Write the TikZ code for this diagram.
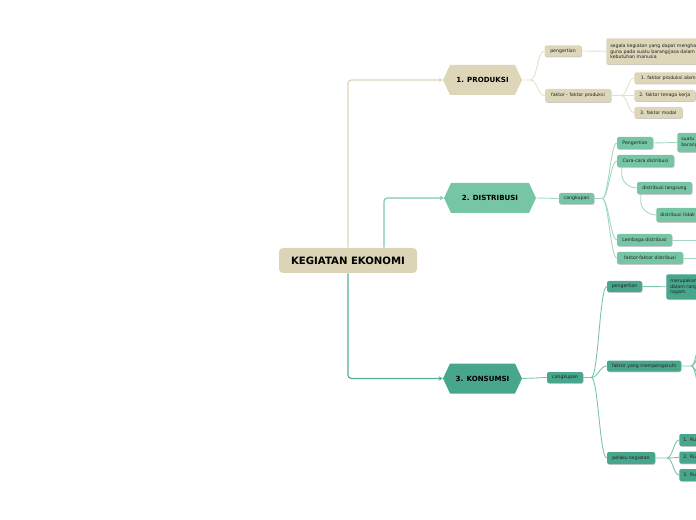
\documentclass[tikz,border=0pt]{standalone}
\usepackage{fontspec}
\setmainfont{DejaVu Sans}
\usetikzlibrary{shapes.symbols,shadows,calc,arrows.meta}
\newdimen\pxu \pxu=0.75pt
\definecolor{beige}{HTML}{DDD6B8}
\definecolor{beigeline}{HTML}{E6E0CA}
\definecolor{beigemain}{HTML}{DDD5B6}
\definecolor{rootbeige}{HTML}{DCD4B6}
\definecolor{mint}{HTML}{76C5A5}
\definecolor{mintline}{HTML}{A3D9C4}
\definecolor{mintmain}{HTML}{7CCBAC}
\definecolor{tealc}{HTML}{47A68C}
\definecolor{tealline}{HTML}{7CC3AE}
\definecolor{tealmain}{HTML}{55AE95}
\definecolor{txt}{HTML}{222222}
\tikzset{
  box/.style={rectangle, rounded corners=1.5pt, inner sep=0pt, minimum height=11\pxu,
    font=\fontsize{3.5}{4.3}\selectfont, text=txt,
    drop shadow={shadow xshift=0.4pt, shadow yshift=-0.6pt, opacity=0.3, fill=black!70}},
  pbox/.style={box, fill=beige},
  dbox/.style={box, fill=mint},
  kbox/.style={box, fill=tealc},
  leftbox/.style={align=left, text width=#1, inner xsep=4\pxu},
  hexa/.style={signal, signal to=east and west, signal pointer angle=130, inner sep=0pt,
    minimum height=30\pxu, font=\bfseries\fontsize{5.3}{6}\selectfont, text=black},
  rootbox/.style={rectangle, rounded corners=3pt, fill=rootbeige, minimum width=138\pxu,
    minimum height=25\pxu, inner sep=0pt, font=\bfseries\fontsize{7.6}{9}\selectfont, text=black},
  pbr/.style={draw=beigeline, line width=0.9\pxu},
  dbr/.style={draw=mintline, line width=0.9\pxu},
  kbr/.style={draw=tealline, line width=0.9\pxu},
  hc/.style={to path={.. controls ($(\tikztostart)+(#1,0)$) and ($(\tikztotarget)+(-#1,0)$) .. (\tikztotarget)}},
  hc/.default=7,
  mainline/.style={line width=0.9pt, rounded corners=2.5pt, -{Stealth[length=3pt, width=3.4pt]}},
}
\begin{document}
\begin{tikzpicture}[x=0.75pt,y=-0.75pt]
\useasboundingbox (0,0) rectangle (696,520);
\clip (0,0) rectangle (696,520);

% root and main topics
\node[rootbox] (root) at (348,260.5) {KEGIATAN EKONOMI};
\node[hexa, fill=beige, minimum width=79\pxu] (prod) at (482.5,80) {1. PRODUKSI};
\node[hexa, fill=mint, minimum width=92\pxu] (dist) at (490,198) {2. DISTRIBUSI};
\node[hexa, fill=tealc, minimum width=79\pxu] (kons) at (482.5,378.5) {3. KONSUMSI};

\draw[mainline, draw=beigemain] (root.north) |- (prod.west);
\draw[mainline, draw=mintmain] ($(root.north)+(36,0)$) |- (dist.west);
\draw[mainline, draw=tealmain] (root.south) |- (kons.west);

% produksi
\node[pbox, minimum width=37\pxu] (ppg) at (563,51) {pengertian};
\node[pbox, anchor=north west, minimum height=26\pxu, leftbox=230\pxu] (pdef) at (606,38)
  {segala kegiatan yang dapat menghasilkan atau menambah nilai\\guna pada suatu barang/jasa dalam memenuhi\\kebutuhan manusia};
\node[pbox, minimum width=66\pxu, minimum height=13\pxu] (pff) at (578,95.5) {faktor - faktor produksi};
\node[pbox, anchor=west, minimum width=68\pxu] (pf1) at (634,78) {1. faktor produksi alam};
\node[pbox, anchor=west, minimum width=61\pxu] (pf2) at (634,95.5) {2. faktor tenaga kerja};
\node[pbox, anchor=west, minimum width=48\pxu] (pf3) at (634,112.5) {3. faktor modal};

\coordinate (pj) at ($(prod.east)+(8,0)$);
\draw[pbr] (prod.east) -- (pj) to[hc] (ppg.west);
\draw[pbr] (pj) to[hc] (pff.west);
\draw[pbr] (ppg.east) -- (pdef.west);
\coordinate (pfj) at ($(pff.east)+(10,0)$);
\draw[pbr] (pff.east) -- (pfj) to[hc=6] (pf1.west);
\draw[pbr] (pfj) to[hc=6] (pf2.west);
\draw[pbr] (pfj) to[hc=6] (pf3.west);

% distribusi
\node[dbox, minimum width=35\pxu] (dcg) at (576.5,198.5) {cangkupan};
\node[dbox, minimum width=36\pxu, minimum height=12\pxu] (dpg) at (635,143) {Pengertian};
\node[dbox, anchor=west, minimum height=19\pxu, leftbox=160\pxu] (ddef) at (677,142.5)
  {suatu kegiatan penyaluran\\barang dan jasa dari produsen ke konsumen};
\node[dbox, minimum width=57\pxu, minimum height=12\pxu] (dcc) at (645.5,161) {Cara-cara distribusi};
\node[dbox, minimum width=55\pxu, minimum height=12\pxu] (ddl) at (664.5,188) {distribusi langsung};
\node[dbox, anchor=west, minimum height=14\pxu, leftbox=70\pxu] (ddt) at (656,215) {distribusi tidak langsung};
\node[dbox, minimum width=55\pxu, minimum height=12\pxu] (dlm) at (644.5,240) {Lembaga distribusi};
\node[dbox, minimum width=66\pxu, minimum height=12\pxu] (dff) at (650,258) {faktor-faktor distribusi};

\draw[dbr] (dist.east) -- (dcg.west);
\coordinate (dj) at ($(dcg.east)+(8,0)$);
\draw[dbr] (dcg.east) -- (dj) to[hc=6] (dpg.west);
\draw[dbr] (dj) to[hc=6] (dcc.west);
\draw[dbr] (dj) to[hc=6] (dlm.west);
\draw[dbr] (dj) to[hc=6] (dff.west);
\draw[dbr] (dpg.east) -- (ddef.west);
\draw[dbr] ($(dcc.south west)+(5,0)$) -- ++(0,8) .. controls +(0,6) and +(-8,0) .. (ddl.west);
\draw[dbr] ($(ddl.south west)+(4,0)$) -- ++(0,8) .. controls +(0,6) and +(-8,0) .. (ddt.west);
\coordinate (dlmx) at (700,240);
\coordinate (dffx) at (700,258);
\draw[dbr] (dlm.east) -- (dlmx);
\draw[dbr] (dff.east) -- (dffx);

% konsumsi
\node[kbox, minimum width=36\pxu] (kcg) at (565,377.5) {cangkupan};
\node[kbox, minimum width=35\pxu] (kpg) at (624.5,286.5) {pengertian};
\node[kbox, anchor=north west, minimum height=25\pxu, leftbox=220\pxu] (kdef) at (666,274)
  {merupakan kegiatan menghabiskan nilai guna suatu barang\\dalam rangka memenuhi kebutuhan hidup yang beraneka\\ragam.};
\node[kbox, minimum width=74\pxu] (kfy) at (644,366) {faktor yang mempengaruhi};
\node[kbox, minimum width=48\pxu, minimum height=12\pxu] (kpl) at (631,458) {pelaku kegiatan};
\node[kbox, anchor=west, leftbox=80\pxu, minimum height=12\pxu] (kp1) at (679,440) {1. Rumah tangga konsumen};
\node[kbox, anchor=west, leftbox=80\pxu, minimum height=12\pxu] (kp2) at (679,457.5) {2. Rumah tangga produsen};
\node[kbox, anchor=west, leftbox=80\pxu, minimum height=12\pxu] (kp3) at (679,475) {3. Rumah tangga pemerintah};

\draw[kbr] (kons.east) -- (kcg.west);
\coordinate (kj) at ($(kcg.east)+(8,0)$);
\draw[kbr] (kcg.east) -- (kj) to[hc=7] (kpg.west);
\draw[kbr] (kj) to[hc=7] (kfy.west);
\draw[kbr] (kj) to[hc=7] (kpl.west);
\draw[kbr] (kpg.east) -- (kdef.west);
\coordinate (kfj) at ($(kfy.east)+(10,0)$);
\coordinate (kf1) at (706,318);
\coordinate (kf2) at (706,342);
\coordinate (kf3) at (706,390);
\coordinate (kf4) at (706,414);
\draw[kbr] (kfy.east) -- (kfj) to[hc=6] (kf1);
\draw[kbr] (kfj) to[hc=6] (kf2);
\draw[kbr] (kfj) to[hc=6] (kf3);
\draw[kbr] (kfj) to[hc=6] (kf4);
\coordinate (kpj) at ($(kpl.east)+(12,0)$);
\draw[kbr] (kpl.east) -- (kpj) to[hc=5] (kp1.west);
\draw[kbr] (kpj) to[hc=5] (kp2.west);
\draw[kbr] (kpj) to[hc=5] (kp3.west);
\end{tikzpicture}
\end{document}
